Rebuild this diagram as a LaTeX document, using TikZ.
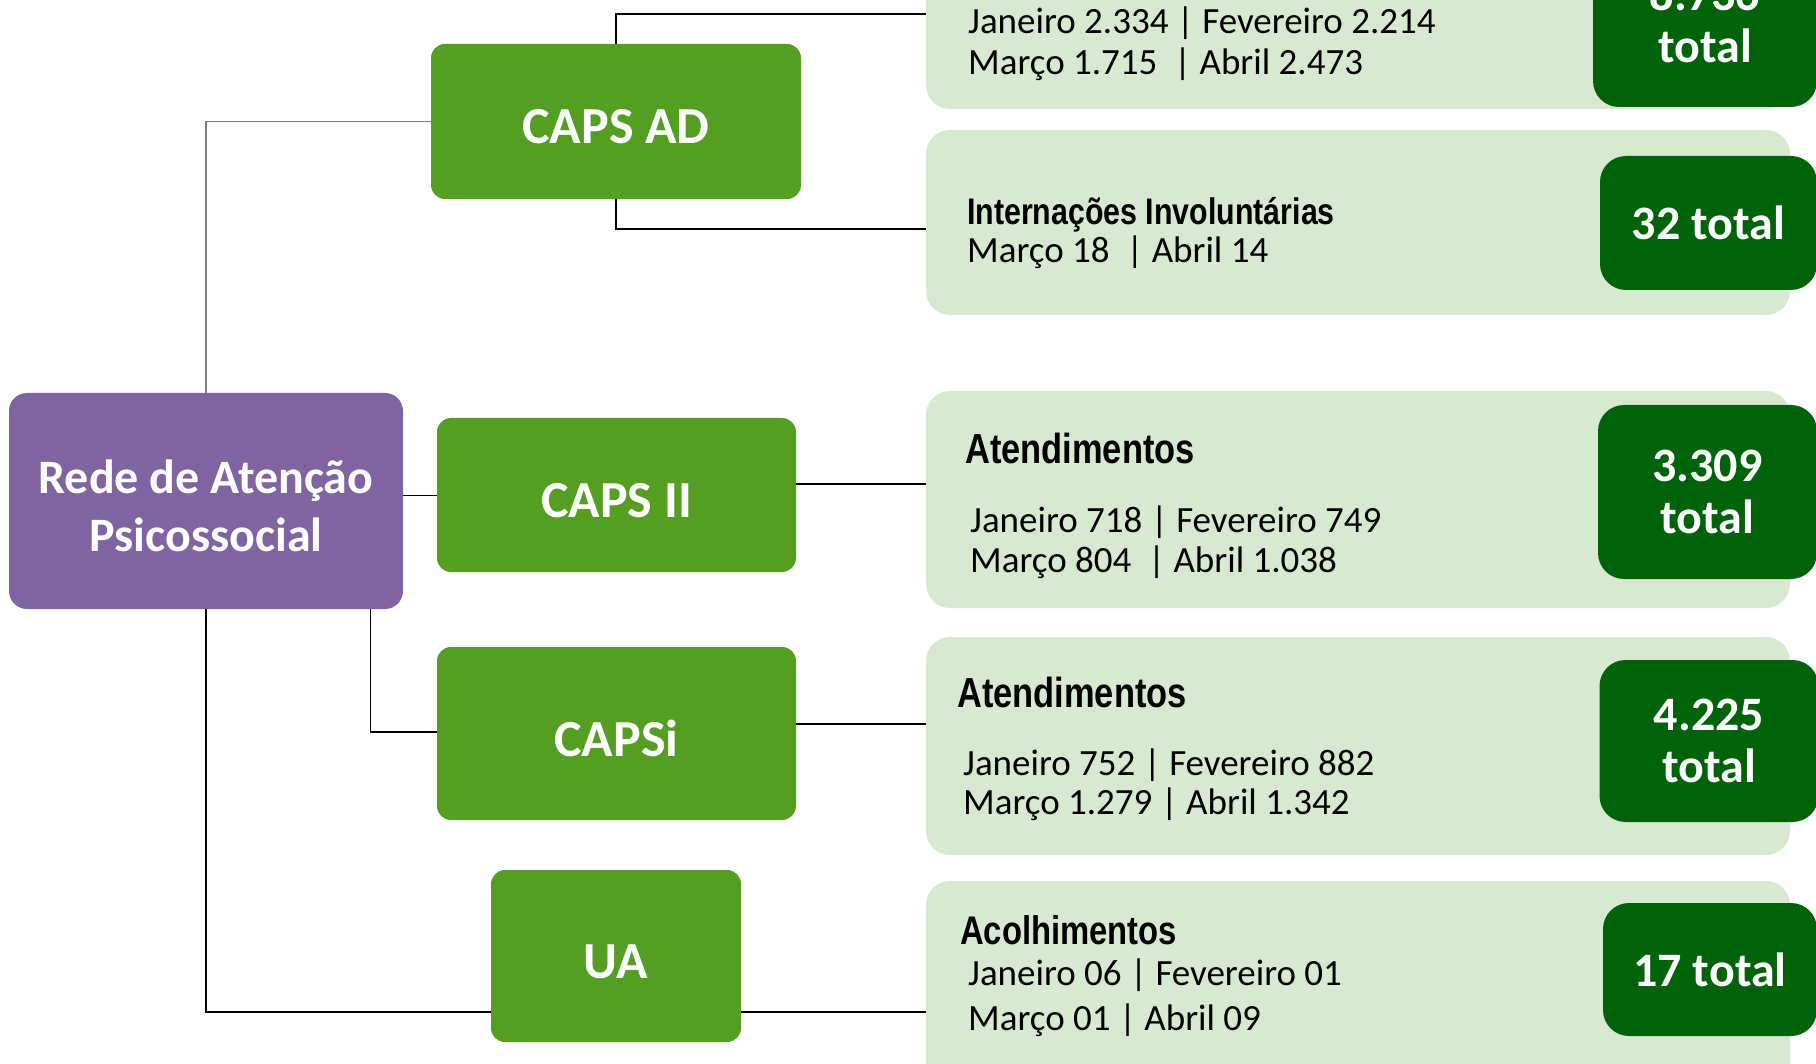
\documentclass[tikz,border=0pt]{standalone}
\usepackage{fontspec}
\setmainfont{Carlito}
\newfontfamily\hdfont[FakeStretch=0.82]{Liberation Sans}
\definecolor{purp}{HTML}{8064A2}
\definecolor{grn}{HTML}{549F21}
\definecolor{lgrn}{HTML}{D8E9D2}
\definecolor{dgrn}{HTML}{006309}
\definecolor{lgray}{HTML}{7F7F7F}
\begin{document}
\begin{tikzpicture}[x=1pt,y=-1pt,
  unitbox/.style={fill=grn, rounded corners=14pt, text=white, inner sep=0pt,
    text height=45pt, text depth=0pt,
    font=\bfseries\fontsize{52}{60}\selectfont},
  rootbox/.style={fill=purp, rounded corners=18pt, text=white, inner sep=0pt, align=center,
    font=\bfseries\fontsize{48}{58}\selectfont},
  panel/.style={fill=lgrn, rounded corners=24pt, inner sep=0pt},
  totbox/.style={fill=dgrn, rounded corners=26pt, text=white, inner sep=0pt, align=center,
    font=\bfseries\fontsize{48}{52}\selectfont},
  hdr/.style={anchor=base west, inner sep=0pt, font=\hdfont\bfseries\fontsize{#1}{#1}\selectfont},
  txt/.style={anchor=base west, inner sep=0pt, font=\fontsize{37}{40}\selectfont},
  conn/.style={draw=black, line width=1.5pt}
]
\useasboundingbox (0,0) rectangle (1816,1064);
\clip (0,0) rectangle (1816,1064);
\fill[white] (0,0) rectangle (1816,1064);

% panels
\node[panel, minimum width=864pt, minimum height=217pt] (p1) at (1358,0.5) {};
\node[panel, minimum width=864pt, minimum height=185pt] (p2) at (1358,222.5) {};
\node[panel, minimum width=864pt, minimum height=217pt] (p3) at (1358,499.5) {};
\node[panel, minimum width=864pt, minimum height=218pt] (p4) at (1358,746) {};
\node[panel, minimum width=864pt, minimum height=219pt] (p5) at (1358,990.5) {};

% totals
\node[totbox, minimum width=224pt, minimum height=174pt] (t1) at (1705,20) {8.736\\total};
\node[totbox, minimum width=217pt, minimum height=134pt] (t2) at (1708.5,223) {32 total};
\node[totbox, minimum width=219pt, minimum height=174pt] (t3) at (1707.5,492) {3.309\\total};
\node[totbox, minimum width=219pt, minimum height=162pt] (t4) at (1709,741) {4.225\\total};
\node[totbox, minimum width=214pt, minimum height=133pt] (t5) at (1710,969.5) {17 total};

% panel texts
\node[txt] (p1a) at (968,34) {Janeiro 2.334 | Fevereiro 2.214};
\node[txt] (p1b) at (968,74.5) {Março 1.715\ \ | Abril 2.473};

\node[hdr=37] (p2h) at (967,225) {Internações Involuntárias};
\node[txt] (p2a) at (967,263) {Março 18\ \ | Abril 14};

\node[hdr=42] (p3h) at (965,464) {Atendimentos};
\node[txt] (p3a) at (970,532) {Janeiro 718 | Fevereiro 749};
\node[txt] (p3b) at (970,572) {Março 804\ \ | Abril 1.038};

\node[hdr=42] (p4h) at (957,707) {Atendimentos};
\node[txt] (p4a) at (963,775) {Janeiro 752 | Fevereiro 882};
\node[txt] (p4b) at (963,814.5) {Março 1.279 | Abril 1.342};

\node[hdr=40] (p5h) at (960,944) {Acolhimentos};
\node[txt] (p5a) at (968,985) {Janeiro 06 | Fevereiro 01};
\node[txt] (p5b) at (968,1030) {Março 01 | Abril 09};

% main boxes
\node[rootbox, minimum width=394pt, minimum height=216pt] (rede) at (206,501) {\rule{0pt}{44pt}Rede de Atenção\\Psicossocial};
\node[unitbox, minimum width=370pt, minimum height=155pt] (capsad) at (616,121.5) {CAPS AD};
\node[unitbox, minimum width=359pt, minimum height=154pt] (capsii) at (616.5,495) {CAPS II};
\node[unitbox, minimum width=359pt, minimum height=173pt] (capsi) at (616.5,733.5) {CAPSi};
\node[unitbox, minimum width=250pt, minimum height=172pt] (ua) at (616,956) {UA};

% connectors
\draw[conn, draw=lgray] (rede.north) |- (capsad.west);
\draw[conn] (capsad.north) |- (p1.west |- 0,14);
\draw[conn] (capsad.south) |- (p2.west |- 0,229);
\draw[conn] (rede.east |- 0,495.6) -- (capsii.west |- 0,495.6);
\draw[conn] (capsii.east |- 0,484) -- (p3.west |- 0,484);
\draw[conn] (rede.south -| 370.6,0) |- (capsi.west |- 0,732);
\draw[conn] (capsi.east |- 0,724) -- (p4.west |- 0,724);
\draw[conn] (rede.south) |- (ua.west |- 0,1012);
\draw[conn] (ua.east |- 0,1012) -- (p5.west |- 0,1012);
\end{tikzpicture}
\end{document}
